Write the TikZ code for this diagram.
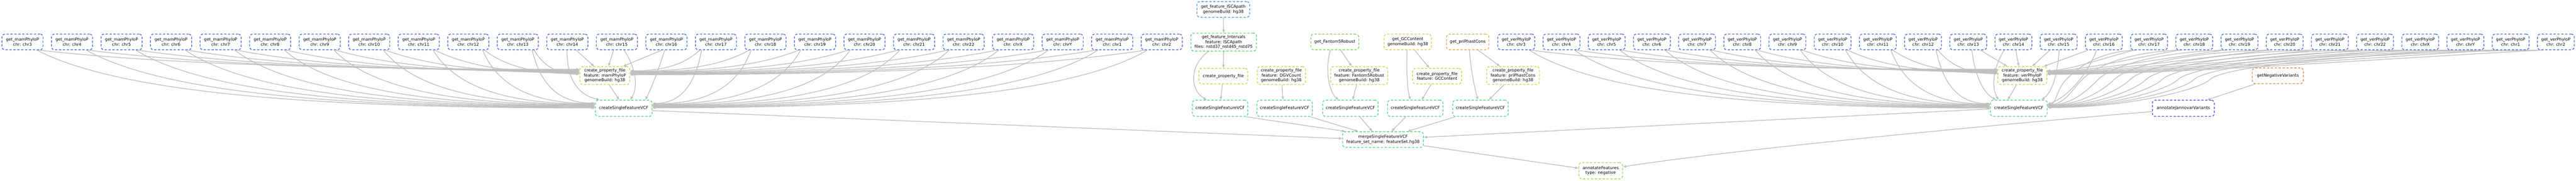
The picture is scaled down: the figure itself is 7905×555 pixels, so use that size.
\documentclass[tikz,border=0pt]{standalone}
\usepackage{fontspec}
\setmainfont{DejaVu Sans}
\usetikzlibrary{arrows.meta}
\pgfdeclarelayer{bg}
\pgfsetlayers{bg,main}
\definecolor{cmam}{RGB}{87,112,214}
\definecolor{cisca}{RGB}{87,148,217}
\definecolor{cjan}{RGB}{90,92,212}
\definecolor{cint}{RGB}{87,214,109}
\definecolor{cfan}{RGB}{122,214,87}
\definecolor{ccpf}{RGB}{200,217,87}
\definecolor{cann}{RGB}{161,217,87}
\definecolor{cgc}{RGB}{217,204,87}
\definecolor{cpri}{RGB}{217,174,87}
\definecolor{cneg}{RGB}{217,150,87}
\definecolor{ccsf}{RGB}{87,214,139}
\definecolor{cedge}{RGB}{192,192,192}
\tikzset{
  job/.style={draw, rounded corners=9pt, dash pattern=on 7pt off 5pt, line width=2.3pt,
    align=center, inner sep=4pt, font=\fontsize{12.6}{15}\selectfont, fill=white, minimum height=48pt},
  tall/.style={minimum height=55pt},
  conn/.style={draw=cedge, line width=2.2pt, -{Triangle[length=10pt,width=7.5pt]}},
}
\begin{document}
\begin{tikzpicture}[x=1pt,y=-1pt]
\useasboundingbox (0,0) rectangle (7905,555);

% ---- top row: mamPhyloP
\foreach \c [count=\k from 0] in {3,4,5,6,7,8,9,10,11,12,13,14,15,16,17,18,19,20,21,22,X,Y,1,2}
  \node[job,draw=cmam,minimum width=126pt] (m\k) at ({69+152*\k},129) {get\_mamPhyloP\\chr: chr\c};
% ---- top row: verPhyloP
\foreach \c [count=\k from 0] in {3,4,5,6,7,8,9,10,11,12,13,14,15,16,17,18,19,20,21,22,X,Y,1,2}
  \node[job,draw=cmam,minimum width=113pt] (v\k) at ({4653+138.7*\k},129) {get\_verPhyloP\\chr: chr\c};

% ---- middle features
\node[job,draw=cisca,minimum width=162pt] (isca) at (3754,29) {get\_feature\_ISCApath\\genomeBuild: hg38};
\node[job,tall,draw=cint,minimum width=201pt] (intv) at (3755,129.5) {get\_feature\_Intervals\\feature: ISCApath\\files: nstd37\_nstd45\_nstd75};
\node[job,draw=cfan,minimum width=147pt] (getF) at (4096,129) {get\_Fantom5Robust};
\node[job,draw=cgc,minimum width=145pt] (getGC) at (4320,129) {get\_GCContent\\genomeBuild: hg38};
\node[job,draw=cpri,minimum width=130pt] (getPri) at (4504,129) {get\_priPhastCons};

% ---- create_property_file row
\node[job,tall,draw=ccpf,minimum width=153pt] (cpfM) at (1856,232.5) {create\_property\_file\\feature: mamPhyloP\\genomeBuild: hg38};
\node[job,draw=ccpf,minimum width=150pt] (cpfI) at (3754,234) {create\_property\_file};
\node[job,tall,draw=ccpf,minimum width=148pt] (cpfD) at (3932,232.5) {create\_property\_file\\feature: DGVCount\\genomeBuild: hg38};
\node[job,tall,draw=ccpf,minimum width=175pt] (cpfF) at (4171,232.5) {create\_property\_file\\feature: Fantom5Robust\\genomeBuild: hg38};
\node[job,draw=ccpf,minimum width=150pt] (cpfGC) at (4410,234) {create\_property\_file\\feature: GCContent};
\node[job,tall,draw=ccpf,minimum width=162pt] (cpfPri) at (4643,232.5) {create\_property\_file\\feature: priPhastCons\\genomeBuild: hg38};
\node[job,tall,draw=ccpf,minimum width=150pt] (cpfV) at (6206,232.5) {create\_property\_file\\feature: verPhyloP\\genomeBuild: hg38};
\node[job,draw=cneg,minimum width=157pt] (getNeg) at (6990,233) {getNegativeVariants};

% ---- createSingleFeatureVCF row
\node[job,draw=ccsf,minimum width=174pt,minimum height=50pt] (csfM) at (1914,333) {createSingleFeatureVCF};
\node[job,draw=ccsf,minimum width=170pt,minimum height=50pt] (csf1) at (3744,333) {createSingleFeatureVCF};
\node[job,draw=ccsf,minimum width=170pt,minimum height=50pt] (csf2) at (3942,333) {createSingleFeatureVCF};
\node[job,draw=ccsf,minimum width=170pt,minimum height=50pt] (csf3) at (4144,333) {createSingleFeatureVCF};
\node[job,draw=ccsf,minimum width=170pt,minimum height=50pt] (csf4) at (4343,333) {createSingleFeatureVCF};
\node[job,draw=ccsf,minimum width=170pt,minimum height=50pt] (csf5) at (4543,333) {createSingleFeatureVCF};
\node[job,draw=ccsf,minimum width=174pt,minimum height=50pt] (csfV) at (6195,333) {createSingleFeatureVCF};
\node[job,draw=cjan,minimum width=190pt,minimum height=50pt] (jan) at (6700,333) {annotateJannovarVariants};

% ---- merge and annotate
\node[job,draw=ccsf,minimum width=248pt] (merge) at (4244,429) {mergeSingleFeatureVCF\\feature\_set\_name: featureSet.hg38};
\node[job,draw=cann,minimum width=134pt,minimum height=50pt] (annF) at (4912,525) {annotateFeatures\\type: negative};

\begin{pgfonlayer}{bg}
% ===== mamPhyloP edges
\foreach \k in {0,...,10}{
  \pgfmathsetmacro\sxa{69+152*\k+50}
  \pgfmathsetmacro\yea{213+1.5*\k}
  \pgfmathsetmacro\cax{\sxa+0.25*(1779.5-\sxa)}
  \pgfmathsetmacro\cay{153+0.8*(\yea-153)}
  \pgfmathsetmacro\cbx{\sxa+0.6*(1779.5-\sxa)}
  \pgfmathsetmacro\dya{232.5-\yea}
  \draw[conn] ([xshift=50pt]m\k.south) .. controls (\cax,\cay) and (\cbx,\yea) .. ([yshift=\dya]cpfM.west);
  \pgfmathsetmacro\sxb{69+152*\k+44}
  \pgfmathsetmacro\yeb{332-1.5*\k}
  \pgfmathsetmacro\cdx{\sxb+0.15*(1827-\sxb)}
  \pgfmathsetmacro\cdy{153+0.75*(\yeb-153)}
  \pgfmathsetmacro\cex{\sxb+0.5*(1827-\sxb)}
  \pgfmathsetmacro\dyb{333-\yeb}
  \draw[conn] ([xshift=44pt]m\k.south) .. controls (\cdx,\cdy) and (\cex,\yeb) .. ([yshift=\dyb]csfM.west);
}
\foreach \k in {14,...,23}{
  \pgfmathsetmacro\sxa{69+152*\k-50}
  \pgfmathsetmacro\yea{218+1.3*(\k-14)}
  \pgfmathsetmacro\cax{\sxa+0.25*(1932.5-\sxa)}
  \pgfmathsetmacro\cay{153+0.8*(\yea-153)}
  \pgfmathsetmacro\cbx{\sxa+0.6*(1932.5-\sxa)}
  \pgfmathsetmacro\dya{232.5-\yea}
  \draw[conn] ([xshift=-50pt]m\k.south) .. controls (\cax,\cay) and (\cbx,\yea) .. ([yshift=\dya]cpfM.east);
  \pgfmathsetmacro\sxb{69+152*\k-44}
  \pgfmathsetmacro\yeb{318+1.5*(\k-14)}
  \pgfmathsetmacro\cdx{\sxb+0.15*(2001-\sxb)}
  \pgfmathsetmacro\cdy{153+0.75*(\yeb-153)}
  \pgfmathsetmacro\cex{\sxb+0.5*(2001-\sxb)}
  \pgfmathsetmacro\dyb{333-\yeb}
  \draw[conn] ([xshift=-44pt]m\k.south) .. controls (\cdx,\cdy) and (\cex,\yeb) .. ([yshift=\dyb]csfM.east);
}
\draw[conn] ([xshift=27pt]m11.south) -- ([xshift=-33pt]cpfM.north);
\draw[conn] ([xshift=-1pt]m11.south) .. controls (1740,240) and (1770,290) .. ([xshift=-74pt]csfM.north);
\draw[conn] ([xshift=-10pt]m12.south) -- ([xshift=11pt]cpfM.north);
\draw[conn] ([xshift=22pt]m12.south) .. controls (1958,220) and (1955,275) .. ([xshift=20pt]csfM.north);
\draw[conn] ([xshift=-14pt]m13.south) -- ([xshift=56pt]cpfM.north);
\draw[conn] ([xshift=-5pt]m13.south) .. controls (2015,230) and (1995,280) .. ([xshift=66pt]csfM.north);
\draw[conn] ([xshift=14pt]cpfM.south) -- ([xshift=-14pt]csfM.north);

% ===== verPhyloP edges
\foreach \k in {0,...,9}{
  \pgfmathsetmacro\sxa{4653+138.7*\k+46}
  \pgfmathsetmacro\yea{213+1.5*\k}
  \pgfmathsetmacro\cax{\sxa+0.25*(6131-\sxa)}
  \pgfmathsetmacro\cay{153+0.8*(\yea-153)}
  \pgfmathsetmacro\cbx{\sxa+0.6*(6131-\sxa)}
  \pgfmathsetmacro\dya{232.5-\yea}
  \draw[conn] ([xshift=46pt]v\k.south) .. controls (\cax,\cay) and (\cbx,\yea) .. ([yshift=\dya]cpfV.west);
  \pgfmathsetmacro\sxb{4653+138.7*\k+40}
  \pgfmathsetmacro\yeb{332-1.5*\k}
  \pgfmathsetmacro\cdx{\sxb+0.15*(6108-\sxb)}
  \pgfmathsetmacro\cdy{153+0.75*(\yeb-153)}
  \pgfmathsetmacro\cex{\sxb+0.5*(6108-\sxb)}
  \pgfmathsetmacro\dyb{333-\yeb}
  \draw[conn] ([xshift=40pt]v\k.south) .. controls (\cdx,\cdy) and (\cex,\yeb) .. ([yshift=\dyb]csfV.west);
}
\foreach \k in {14,...,23}{
  \pgfmathsetmacro\sxa{4653+138.7*\k-46}
  \pgfmathsetmacro\yea{217+1.3*(\k-14)}
  \pgfmathsetmacro\cax{\sxa+0.35*(6281-\sxa)}
  \pgfmathsetmacro\cay{153+0.4*(\yea-153)}
  \pgfmathsetmacro\cbx{\sxa+0.75*(6281-\sxa)}
  \pgfmathsetmacro\dya{232.5-\yea}
  \draw[conn] ([xshift=-46pt]v\k.south) .. controls (\cax,\cay) and (\cbx,\yea) .. ([yshift=\dya]cpfV.east);
  \pgfmathsetmacro\sxb{4653+138.7*\k-40}
  \pgfmathsetmacro\yeb{320+1.2*(\k-14)}
  \pgfmathsetmacro\dd{6340+49*(\k-14)}
  \pgfmathsetmacro\cdx{\sxb-0.5*(\sxb-\dd)}
  \pgfmathsetmacro\cex{\dd+45}
  \pgfmathsetmacro\cfx{\dd-30}
  \pgfmathsetmacro\cgx{\dd-0.5*(\dd-6282)}
  \pgfmathsetmacro\dyb{333-\yeb}
  \draw[conn] ([xshift=-40pt]v\k.south) .. controls (\cdx,158) and (\cex,200) .. (\dd,245)
     .. controls (\cfx,275) and (\cgx,\yeb) .. ([yshift=\dyb]csfV.east);
}
\draw[conn] ([xshift=37pt]v10.south) -- ([xshift=-47pt]cpfV.north);
\draw[conn] ([xshift=11pt]v10.south) .. controls (6060,230) and (6085,285) .. ([xshift=-70pt]csfV.north);
\draw[conn] ([xshift=7pt]v11.south) -- ([xshift=-11pt]cpfV.north);
\draw[conn] ([xshift=-28pt]v11.south) .. controls (6120,200) and (6108,265) .. ([xshift=-62pt]csfV.north);
\draw[conn] ([xshift=-27pt]v12.south) -- ([xshift=30pt]cpfV.north);
\draw[conn] ([xshift=2pt]v12.south) .. controls (6312,230) and (6300,280) .. ([xshift=70pt]csfV.north);
\draw[conn] ([xshift=-48pt]v13.south) -- ([xshift=66pt]cpfV.north);
\draw[conn] ([xshift=-22pt]v13.south) .. controls (6400,240) and (6340,300) .. ([yshift=12pt]csfV.east);
\draw[conn] ([xshift=-18pt]cpfV.south) -- ([xshift=-34pt]csfV.north);

% ===== middle features
\draw[conn] (isca) -- (intv);
\draw[conn] (intv) -- (cpfI);
\draw[conn] ([xshift=-47pt]intv.south) .. controls (3645,205) and (3655,280) .. ([xshift=-41pt]csf1.north);
\draw[conn] ([xshift=-3pt]cpfI.south) -- ([xshift=2pt]csf1.north);
\draw[conn] ([xshift=2pt]cpfD.south) -- ([xshift=-5pt]csf2.north);
\draw[conn] ([xshift=18pt]getF.south) -- ([xshift=-23pt]cpfF.north);
\draw[conn] ([xshift=-14pt]getF.south) .. controls (4065,220) and (4080,285) .. ([xshift=-36pt]csf3.north);
\draw[conn] ([xshift=-8pt]cpfF.south) -- ([xshift=7pt]csf3.north);
\draw[conn] ([xshift=21pt]getGC.south) -- ([xshift=-24pt]cpfGC.north);
\draw[conn] ([xshift=-2pt]getGC.south) .. controls (4315,230) and (4320,280) .. ([xshift=-15pt]csf4.north);
\draw[conn] ([xshift=-18pt]cpfGC.south) -- ([xshift=20pt]csf4.north);
\draw[conn] ([xshift=32pt]getPri.south) -- ([xshift=-40pt]cpfPri.north);
\draw[conn] ([xshift=5pt]getPri.south) .. controls (4515,230) and (4528,280) .. ([xshift=-8pt]csf5.north);
\draw[conn] ([xshift=-28pt]cpfPri.south) -- ([xshift=26pt]csf5.north);

% ===== into merge
\draw[conn] ([xshift=80pt]csf1.south) -- ([xshift=-116pt]merge.north);
\draw[conn] ([xshift=79pt]csf2.south) -- ([xshift=-76pt]merge.north);
\draw[conn] ([xshift=29pt]csf3.south) -- ([xshift=-33pt]merge.north);
\draw[conn] ([xshift=-29pt]csf4.south) -- ([xshift=26pt]merge.north);
\draw[conn] ([xshift=-77pt]csf5.south) -- ([xshift=75pt]merge.north);
\draw[conn] ([yshift=-7pt]csfM.east) -- ([yshift=3pt]merge.west);
\draw[conn] ([yshift=-2pt]csfV.west) -- ([yshift=7pt]merge.east);

% ===== final
\draw[conn] ([yshift=-19pt]merge.east) -- ([yshift=8pt]annF.west);
\draw[conn] ([xshift=-69pt]getNeg.south) -- ([xshift=73pt]jan.north);
\draw[conn] ([yshift=-10pt]jan.west) .. controls (6100,385) and (5300,462) .. ([yshift=12pt]annF.east);
\end{pgfonlayer}
\end{tikzpicture}
\end{document}
